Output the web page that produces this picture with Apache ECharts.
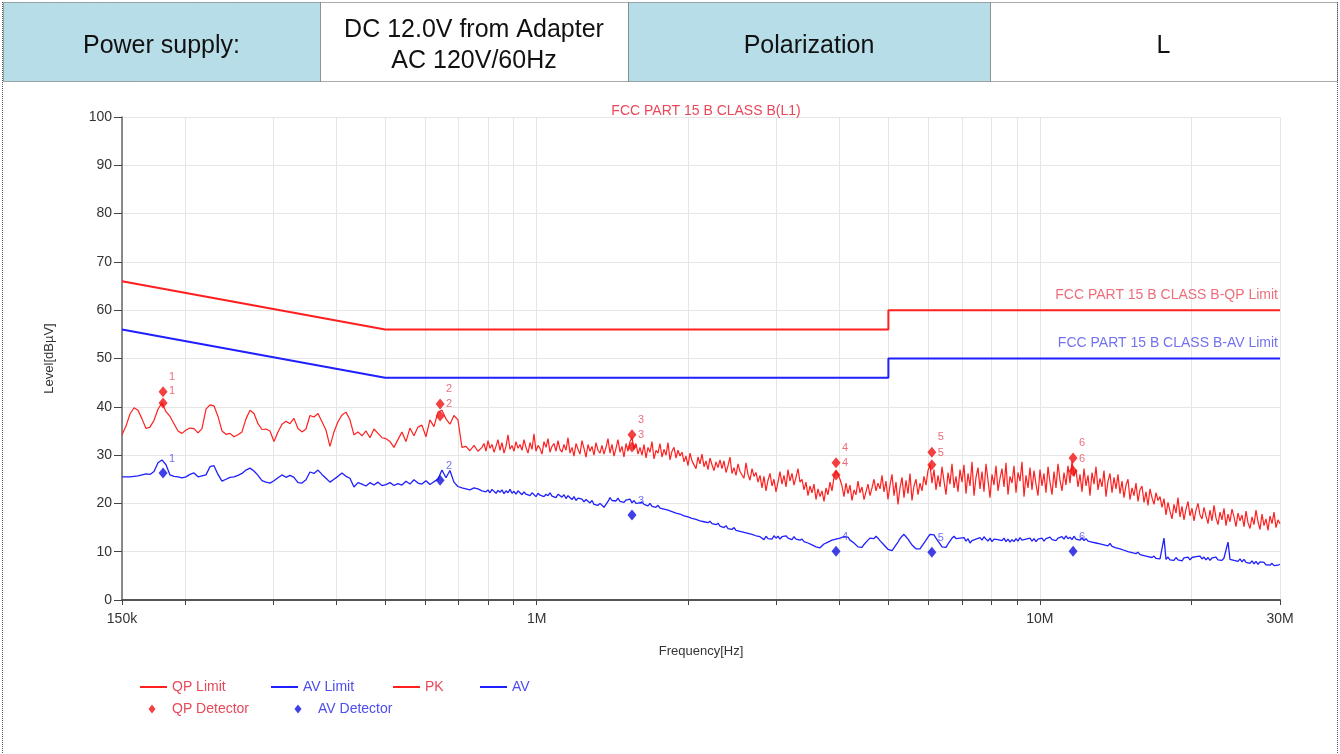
<!DOCTYPE html>
<html><head><meta charset="utf-8">
<script src="https://cdn.jsdelivr.net/npm/echarts@6/dist/echarts.min.js"></script>
<style>html,body{margin:0;padding:0;background:#fff}#c{width:1340px;height:754px}</style>
</head><body><div id="c"></div>
<script>
// ---- data ----
// receiver sweep: a coarse segment and a fine segment (start Hz, stop Hz)
const sweepA = [150e3, 764.5e3];
const sweepB = [778.8e3, 30e6];
const limitFreqHz = [150e3, 500e3, 5e6, 5e6, 30e6];
const qpLimit = [66, 56, 56, 60, 60];
const avLimit = [56, 46, 46, 50, 50];
const pkTraceA = [
34.2,36.0,38.5,39.8,39.3,37.5,35.5,35.8,37.2,39.5,
40.8,39.0,38.0,36.5,35.0,34.5,35.2,35.6,35.5,34.6,
35.5,39.5,40.4,40.2,38.0,35.0,34.3,34.5,33.8,34.2,
34.8,37.5,39.3,38.6,36.5,35.3,35.4,35.0,32.8,34.8,
36.4,37.0,36.5,37.6,35.5,34.8,35.4,38.2,37.9,38.6,
36.9,35.2,31.8,34.8,36.9,38.3,38.9,37.3,34.2,34.8,
34.0,35.0,33.6,35.4,34.5,33.6,33.4,32.8,31.6,33.2,
34.8,32.8,35.6,34.0,35.8,36.2,33.8,37.3,35.9,38.9,
39.3,37.5,36.4,38.2,37.3,31.6,31.8,30.9,32.0,30.8
];
const pkTraceB = [
31.6,32.4,30.8,33.0,31.4,32.2,30.6,31.8,33.2,31.0,32.6,30.4,31.8,34.2,31.2,32.0,30.8,32.8,31.4,32.2,
31.0,33.2,31.6,30.4,32.6,31.2,34.4,30.8,32.0,31.4,30.2,32.8,31.6,33.4,30.6,31.8,32.4,30.8,33.0,31.2,
30.6,32.2,31.0,33.6,30.4,31.6,29.8,32.4,31.2,30.2,33.0,31.4,29.6,32.2,30.8,31.8,30.0,32.6,31.0,30.4,
32.0,30.2,31.6,33.4,30.4,32.2,29.8,31.4,33.2,30.6,31.8,29.6,32.4,30.8,32.8,33.6,31.2,32.4,30.2,31.6,
30.0,32.2,29.4,31.6,30.6,32.8,29.2,31.0,30.4,32.4,29.6,31.2,30.0,32.6,29.0,30.8,31.6,29.4,31.0,29.8,
30.6,28.6,29.8,27.8,30.4,28.8,29.2,27.2,29.6,28.2,30.2,27.6,28.8,27.0,29.4,28.0,26.8,28.6,27.4,29.0,
27.2,28.8,26.4,27.8,29.6,26.2,27.4,25.8,28.2,26.6,27.0,25.2,28.4,26.0,24.8,27.2,25.6,26.4,24.4,25.8,
23.2,25.6,22.6,24.8,26.2,23.6,25.0,22.4,24.4,26.6,24.0,25.8,23.4,27.0,24.6,26.2,23.8,25.4,27.2,24.4,
25.0,22.8,24.4,21.6,23.6,22.2,24.0,20.8,23.0,21.4,22.6,20.4,23.2,21.8,24.4,22.6,25.4,26.8,27.2,25.0,
23.6,21.4,24.2,22.0,23.8,20.6,22.8,21.8,24.6,22.2,23.4,20.8,22.4,24.0,21.6,23.2,25.0,22.6,24.2,23.0,
25.8,22.4,24.6,20.8,23.8,26.0,21.6,24.4,19.8,23.2,25.4,21.2,24.8,22.0,26.2,20.6,23.6,25.0,21.8,24.2,
22.6,25.6,23.8,26.8,28.0,24.2,27.0,22.8,25.8,23.4,27.6,24.6,21.8,26.4,24.0,28.2,23.2,25.6,22.4,27.0,
24.4,28.0,22.0,26.2,23.6,28.6,21.6,25.4,27.4,23.0,26.6,22.4,28.2,24.8,21.2,26.0,23.8,27.8,22.6,25.2,
27.2,23.4,28.4,21.8,25.6,24.2,27.8,22.2,26.4,24.6,28.6,21.4,25.8,23.2,27.4,22.8,26.8,24.0,21.6,27.0,
23.6,26.2,22.2,27.6,24.4,21.8,26.6,23.2,28.2,24.8,22.6,26.4,23.8,27.8,24.2,28.8,25.6,27.0,23.4,26.0,
22.4,27.2,23.6,25.8,21.6,26.4,24.0,27.6,22.8,25.2,23.4,26.8,21.4,24.6,26.2,22.2,25.4,23.0,26.0,22.0,
24.6,21.2,23.8,25.0,20.8,23.2,21.6,24.2,20.4,22.8,23.6,20.2,22.4,19.6,23.0,21.2,19.8,22.2,20.6,21.4,
19.2,21.0,17.6,20.2,18.4,16.8,19.8,18.0,21.2,17.2,19.4,16.6,18.8,20.4,17.4,19.0,16.4,18.6,20.0,17.6,
16.8,19.2,17.4,15.8,18.6,16.4,19.6,17.0,15.6,18.2,16.6,19.0,15.4,17.8,16.2,18.8,17.2,15.2,18.0,16.4,
17.6,15.2,18.4,16.0,14.8,17.2,15.6,18.6,16.2,14.6,17.8,15.4,16.8,14.4,17.4,15.8,18.2,15.0,16.6,15.8
];
const avTraceA = [
25.5,25.5,25.5,25.6,25.7,25.9,26.1,26.0,26.6,28.4,
29.0,28.0,25.9,25.6,25.5,25.3,25.5,26.0,26.3,25.5,
25.7,25.9,27.6,27.8,26.0,24.6,25.0,25.4,25.5,25.8,
26.2,26.9,27.3,26.7,25.8,24.7,24.4,24.2,24.7,25.3,
25.9,25.4,25.8,25.4,24.3,24.2,24.9,26.5,26.2,26.9,
26.0,25.2,24.4,25.0,25.6,26.3,25.6,25.2,23.4,24.3,
24.0,23.6,24.3,23.8,24.4,23.7,23.9,24.3,23.7,24.1,
23.8,24.6,24.0,24.9,24.2,24.0,24.7,23.9,24.5,25.0,
26.9,25.3,26.8,24.4,23.5,23.2,23.0,22.8,23.2,23.0
];
const avTraceB = [
22.6,23.0,22.4,22.8,22.2,22.9,22.5,22.1,22.7,22.3,22.8,22.0,22.6,22.2,22.9,22.1,22.5,21.9,22.6,22.2,
21.8,22.4,21.9,22.3,21.6,22.2,21.8,21.4,22.1,21.7,22.0,21.4,21.9,21.6,22.2,21.5,21.8,21.2,21.9,21.5,
21.3,21.8,21.0,21.6,21.2,20.8,21.4,20.6,21.1,20.7,20.9,20.3,20.8,20.4,20.1,20.6,19.8,20.2,19.6,20.0,
19.6,19.2,19.8,20.4,21.2,20.6,21.0,20.5,21.1,20.4,20.8,20.2,20.7,20.3,20.9,20.1,20.6,20.0,20.4,20.1,
20.3,19.8,20.2,19.5,20.0,19.4,19.8,19.2,19.6,19.0,19.4,18.8,19.2,18.6,18.9,18.3,18.6,18.0,18.4,17.8,
18.0,17.4,17.8,17.2,17.5,16.9,17.3,16.7,17.0,16.4,16.8,16.2,16.6,16.0,16.3,15.8,16.1,15.6,15.9,15.3,
15.6,15.0,15.4,14.8,15.2,14.6,15.0,14.4,14.8,14.2,14.6,14.0,14.3,13.8,14.1,13.6,13.9,13.3,13.6,13.1,
13.0,12.5,13.2,12.7,13.1,12.6,13.3,12.8,13.2,12.6,13.1,12.7,13.3,12.8,13.0,12.5,13.1,12.6,12.9,12.4,
12.6,12.1,12.4,11.8,12.0,11.4,11.6,11.0,11.3,10.8,11.2,11.6,11.4,12.0,11.8,12.4,12.2,12.6,12.3,12.8,
12.6,13.1,12.7,13.0,12.4,12.6,11.8,11.4,11.0,10.7,10.9,11.5,11.9,12.4,12.8,13.1,12.7,13.2,12.8,12.3,
12.0,11.4,11.0,10.5,10.6,10.2,10.8,11.4,12.0,12.7,13.2,13.6,13.1,12.6,12.0,11.4,11.0,10.6,10.9,10.6,
11.2,11.8,12.4,13.0,13.6,13.2,13.5,12.8,12.2,11.6,11.0,11.3,10.9,11.6,12.2,12.8,13.2,12.7,13.1,12.8,
12.4,12.9,12.2,12.7,11.8,12.3,12.0,12.6,12.2,12.9,12.4,13.1,12.6,12.2,12.8,12.1,12.6,13.0,12.5,12.9,
12.3,12.8,12.1,12.6,12.0,12.5,12.1,12.7,12.2,12.9,12.4,12.0,12.6,12.3,12.8,12.2,12.7,12.1,12.6,12.4,
12.8,12.2,12.7,12.4,13.0,12.5,12.9,12.3,12.8,12.4,13.1,12.6,13.3,12.7,13.0,12.5,13.2,12.6,12.9,12.4,
12.9,12.3,12.7,12.2,12.6,12.0,12.4,11.8,12.2,11.6,12.0,11.4,11.8,11.2,11.7,11.1,11.4,10.8,11.2,10.6,
10.9,10.3,10.6,10.0,10.4,9.8,10.1,9.6,9.9,9.4,9.7,9.2,9.5,9.0,9.3,8.8,9.1,8.6,8.9,8.5,
8.8,12.8,8.4,8.9,8.3,8.7,8.2,8.8,8.3,8.6,8.1,8.7,8.4,8.9,8.3,8.8,8.5,9.0,8.6,9.1,
8.5,8.9,8.3,8.8,8.2,8.7,8.4,8.9,8.3,8.6,8.2,8.7,8.3,12.0,8.4,8.8,8.2,8.6,8.0,8.5,
7.9,8.4,7.8,8.2,7.6,8.1,7.5,8.0,7.4,7.9,7.5,7.8,7.3,7.7,7.2,7.6,7.1,7.5,7.2,7.4
];
const markerFreqHz = [181e3, 643e3, 1.547e6, 3.935e6, 6.10e6, 11.64e6];
const markerNames = ['1', '2', '3', '4', '5', '6'];
const qpReading  = [43.1, 40.6, 34.2, 28.4, 30.6, 29.4];
const qpReading2 = [40.8, 38.1, 31.7, 25.9, 28.0, 26.7];
const avReading  = [26.3, 24.8, 17.6, 10.1, 9.9, 10.1];
const tickFreqHz = [150e3, 2e5, 3e5, 4e5, 5e5, 6e5, 7e5, 8e5, 9e5,
  1e6, 2e6, 3e6, 4e6, 5e6, 6e6, 7e6, 8e6, 9e6, 1e7, 2e7, 3e7];
const tickLabelFreqHz = [150e3, 1e6, 1e7, 30e6];
const tickLabelText = ['150k', '1M', '10M', '30M'];
const headerCells = ['Power supply:', 'DC 12.0V from Adapter\nAC 120V/60Hz', 'Polarization', 'L'];

// ---- build ----
const L = Math.log10;
const FONT = '"Liberation Sans", Arial, sans-serif';
const RED = '#ff1f1f', BLUE = '#1f1fff';
const RED_T = '#e8485a', BLUE_T = '#4d4dee';
const sweep = (seg, n) => Array.from({length: n}, (_, i) => seg[0] * Math.pow(seg[1] / seg[0], i / (n - 1)));
const pts = (fs, vs) => vs.map((v, i) => [L(fs[i]), v]);
const traceFreq = sweep(sweepA, pkTraceA.length).concat(sweep(sweepB, pkTraceB.length));
const pkTrace = pkTraceA.concat(pkTraceB);
const avTrace = avTraceA.concat(avTraceB);

const chart = echarts.init(document.getElementById('c'), null, {renderer: 'canvas'});

const markerLabel = (color, dist) => ({
  show: true, position: 'top', distance: dist, offset: [9, 0], color: color,
  fontSize: 11, fontFamily: FONT, formatter: p => markerNames[p.dataIndex]
});

const headerX = [3, 320, 628, 990, 1337];
const headerFill = ['#b7dde8', '#ffffff', '#b7dde8', '#ffffff'];
const graphic = [];
headerCells.forEach((t, i) => {
  graphic.push({type: 'rect', shape: {x: headerX[i] + 0.5, y: 2.5, width: headerX[i + 1] - headerX[i], height: 79},
    style: {fill: headerFill[i], stroke: '#555', lineWidth: 1, lineDash: [1, 1]}, z: 1});
  graphic.push({type: 'text', x: (headerX[i] + headerX[i + 1]) / 2, y: 46, z: 2,
    style: {text: t, font: '25px ' + FONT, fill: '#111', align: 'center', verticalAlign: 'middle', lineHeight: 31}});
});
graphic.push({type: 'line', shape: {x1: 2.5, y1: 2, x2: 2.5, y2: 754}, style: {stroke: '#555', lineDash: [1, 1]}, z: 1});
graphic.push({type: 'line', shape: {x1: 1337.5, y1: 2, x2: 1337.5, y2: 754}, style: {stroke: '#555', lineDash: [1, 1]}, z: 1});

const legendItems = [
  {name: 'QP Limit', left: 140, color: RED_T, line: true},
  {name: 'AV Limit', left: 271, color: BLUE_T, line: true},
  {name: 'PK', left: 393, color: RED_T, line: true},
  {name: 'AV', left: 480, color: BLUE_T, line: true},
  {name: 'QP Detector', left: 148.5, color: RED_T, line: false},
  {name: 'AV Detector', left: 294.5, color: BLUE_T, line: false}
];

const option = {
  animation: false,
  backgroundColor: '#fff',
  title: {text: 'FCC PART 15 B CLASS B(L1)', left: 701, textAlign: 'center', top: 99,
    textStyle: {color: RED_T, fontSize: 14, fontWeight: 'normal', fontFamily: FONT}},
  graphic: graphic,
  legend: legendItems.map(it => ({
    left: it.left, top: it.line ? 680 : 702, padding: 0, selectedMode: false,
    itemWidth: it.line ? 27 : 7, itemHeight: it.line ? 2 : 9,
    data: [{name: it.name, icon: it.line ? 'rect' : 'diamond',
      textStyle: {color: it.color, padding: it.line ? 0 : [0, 0, 0, 11.5]}}],
    textStyle: {fontSize: 14, fontFamily: FONT}
  })),
  grid: {left: 122, right: 60, top: 117, bottom: 154},
  xAxis: {
    type: 'value', min: L(sweepA[0]), max: L(sweepB[1]),
    name: 'Frequency[Hz]', nameLocation: 'middle', nameGap: 45,
    nameTextStyle: {fontSize: 13, color: '#333', fontFamily: FONT},
    axisLine: {lineStyle: {color: '#555', width: 2}},
    axisTick: {customValues: tickFreqHz.map(L), length: 5, lineStyle: {color: '#444'}},
    axisLabel: {customValues: tickLabelFreqHz.map(L), fontSize: 14, color: '#333', fontFamily: FONT, margin: 12,
      formatter: v => { const k = tickLabelFreqHz.findIndex(f => Math.abs(L(f) - v) < 1e-6); return k >= 0 ? tickLabelText[k] : ''; }},
    splitLine: {show: true, lineStyle: {color: '#e6e6e6'}}
  },
  yAxis: {
    type: 'value', min: 0, max: 100, interval: 10,
    name: 'Level[dBµV]', nameLocation: 'middle', nameGap: 66, nameRotate: 90,
    nameTextStyle: {fontSize: 13, color: '#333', fontFamily: FONT},
    axisLine: {show: true, lineStyle: {color: '#666', width: 1.5}},
    axisTick: {show: true, length: 8, lineStyle: {color: '#444'}},
    axisLabel: {fontSize: 14, color: '#333', fontFamily: FONT, margin: 10},
    splitLine: {lineStyle: {color: '#e6e6e6'}}
  },
  series: [
    {name: 'PK', type: 'line', data: pts(traceFreq, pkTrace), symbol: 'none', lineStyle: {color: RED, width: 1.2}, itemStyle: {color: RED}, z: 2},
    {name: 'AV', type: 'line', data: pts(traceFreq, avTrace), symbol: 'none', lineStyle: {color: BLUE, width: 1.3}, itemStyle: {color: BLUE}, z: 2},
    {name: 'QP Limit', type: 'line', data: pts(limitFreqHz, qpLimit), symbol: 'none', lineStyle: {color: RED, width: 2}, itemStyle: {color: RED}, z: 3},
    {name: 'AV Limit', type: 'line', data: pts(limitFreqHz, avLimit), symbol: 'none', lineStyle: {color: BLUE, width: 2}, itemStyle: {color: BLUE}, z: 3},
    {name: 'limitText', type: 'scatter', symbolSize: 1, itemStyle: {color: 'transparent'}, z: 4,
      data: [
        {value: [L(limitFreqHz[4]), qpLimit[4]], label: {color: RED_T}},
        {value: [L(limitFreqHz[4]), avLimit[4]], label: {color: BLUE_T}}
      ],
      label: {show: true, position: 'top', align: 'right', distance: 8, fontSize: 14, fontFamily: FONT,
        offset: [-2, 0],
        formatter: p => p.dataIndex === 0 ? 'FCC PART 15 B CLASS B-QP Limit' : 'FCC PART 15 B CLASS B-AV Limit'}
    },
    {name: 'QP Detector', type: 'scatter', data: pts(markerFreqHz, qpReading), symbol: 'diamond', symbolSize: [9, 11],
      itemStyle: {color: '#f01010'}, label: markerLabel(RED_T, 4), z: 5},
    {name: 'QP Detector', type: 'scatter', data: pts(markerFreqHz, qpReading2), symbol: 'diamond', symbolSize: [9, 11],
      itemStyle: {color: '#f01010'}, label: markerLabel(RED_T, 1), z: 5},
    {name: 'AV Detector', type: 'scatter', data: pts(markerFreqHz, avReading), symbol: 'diamond', symbolSize: [9, 11],
      itemStyle: {color: '#1010e0'}, label: markerLabel(BLUE_T, 3), z: 5}
  ]
};
chart.setOption(option);
</script></body></html>
